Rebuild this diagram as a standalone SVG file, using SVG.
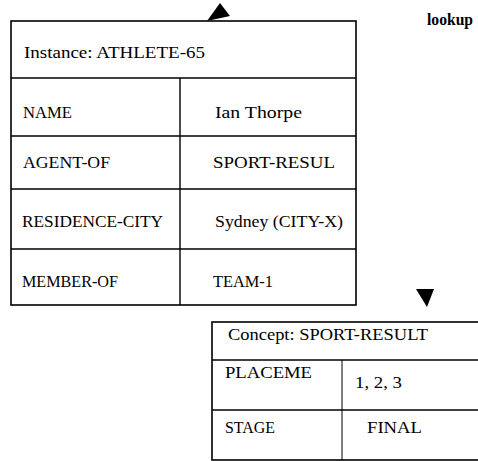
<svg xmlns="http://www.w3.org/2000/svg" width="478" height="461" viewBox="0 0 478 461">
<style>
.frame{fill:#fff;stroke:#000;stroke-width:1.6}
.ln{stroke:#000;stroke-width:1.4;fill:none}
.dl{stroke:#000;stroke-width:1;fill:none}
text{font-family:"Liberation Serif","DejaVu Serif",serif;font-size:17px;fill:#000}
.lk{font-size:17px;font-weight:bold}
.arrow{fill:#000}
</style>
<rect width="478" height="461" fill="#fff"/>
<g id="connectors">
<polygon class="arrow" points="220,3 207,21 230,16"/>
<polygon class="arrow" points="416,289 434,289 427,307"/>
</g>
<g id="label-lookup">
<text class="lk" x="427" y="25" textLength="46" lengthAdjust="spacingAndGlyphs">lookup</text>
</g>
<g id="instance-athlete-65">
<rect class="frame" x="11" y="21" width="345" height="284"/>
<line class="ln" x1="11" y1="78" x2="356" y2="78"/>
<line class="ln" x1="11" y1="136" x2="356" y2="136"/>
<line class="ln" x1="11" y1="189" x2="356" y2="189"/>
<line class="ln" x1="11" y1="249" x2="356" y2="249"/>
<line class="ln" x1="180" y1="78" x2="180" y2="305"/>
<text x="24" y="58" textLength="181" lengthAdjust="spacingAndGlyphs">Instance: ATHLETE-65</text>
<text x="23" y="118" textLength="49" lengthAdjust="spacingAndGlyphs">NAME</text>
<text x="215" y="118" textLength="87" lengthAdjust="spacingAndGlyphs">Ian Thorpe</text>
<text x="23" y="168" textLength="87" lengthAdjust="spacingAndGlyphs">AGENT-OF</text>
<text x="213" y="168" textLength="122" lengthAdjust="spacingAndGlyphs">SPORT-RESUL</text>
<text x="22" y="227" textLength="141" lengthAdjust="spacingAndGlyphs">RESIDENCE-CITY</text>
<text x="215" y="227" textLength="128" lengthAdjust="spacingAndGlyphs">Sydney (CITY-X)</text>
<text x="22" y="287" textLength="96" lengthAdjust="spacingAndGlyphs">MEMBER-OF</text>
<text x="213" y="287" textLength="60" lengthAdjust="spacingAndGlyphs">TEAM-1</text>
</g>
<g id="concept-sport-result">
<rect class="frame" x="212" y="322" width="280" height="138"/>
<line class="ln" x1="212" y1="360" x2="478" y2="360"/>
<line class="ln" x1="212" y1="410" x2="478" y2="410"/>
<line class="dl" x1="342" y1="360" x2="342" y2="460"/>
<text x="228" y="340" textLength="200" lengthAdjust="spacingAndGlyphs">Concept: SPORT-RESULT</text>
<text x="225" y="378" textLength="87" lengthAdjust="spacingAndGlyphs">PLACEME</text>
<text x="355" y="388" textLength="47" lengthAdjust="spacingAndGlyphs">1, 2, 3</text>
<text x="225" y="433" textLength="50" lengthAdjust="spacingAndGlyphs">STAGE</text>
<text x="367" y="433" textLength="55" lengthAdjust="spacingAndGlyphs">FINAL</text>
</g>
</svg>
